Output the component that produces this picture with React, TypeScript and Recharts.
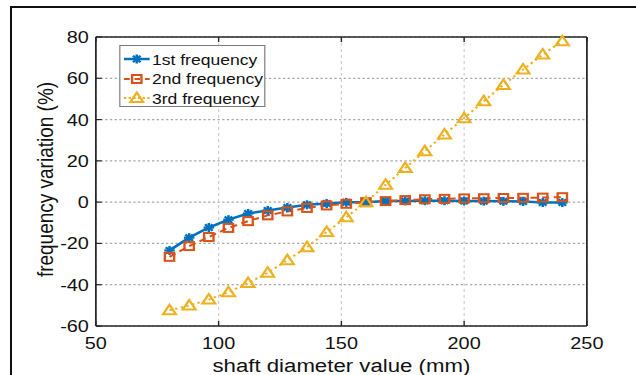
import { LineChart, Line, XAxis, YAxis, CartesianGrid, Legend, Label } from 'recharts'

// values
const diameters = [80, 88, 96, 104, 112, 120, 128, 136, 144, 152, 160, 168, 176, 184, 192, 200, 208, 216, 224, 232, 240]
const firstFreq = [-23.4, -17.2, -12.3, -8.5, -5.5, -4.0, -2.6, -1.3, -0.7, -0.1, 0, 0.5, 0.6, 0.7, 0.7, 0.6, 0.5, 0.4, 0.3, -0.2, -0.2]
const secondFreq = [-26.5, -21.3, -16.9, -12.5, -9.2, -6.4, -4.5, -2.8, -1.6, -0.8, 0, 0.5, 1.0, 1.4, 1.6, 1.8, 1.9, 2.0, 2.1, 2.2, 2.4]
const thirdFreq = [-52.4, -50.1, -47.2, -43.6, -39.2, -34.2, -28.1, -21.8, -14.5, -7.3, 0, 8.4, 16.5, 24.7, 32.8, 40.7, 48.9, 56.8, 64.2, 71.5, 77.9]

const xTicks = [50, 100, 150, 200, 250]
const yTicks = [-60, -40, -20, 0, 20, 40, 60, 80]
const seriesNames = ['1st frequency', '2nd frequency', '3rd frequency']

const BLUE = '#0072BD'
const RED = '#D95319'
const YELLOW = '#EDB120'
const AXIS = '#262626'
const TEXT = '#111'

const rows = diameters.map((d, i) => ({ d, f1: firstFreq[i], f2: secondFreq[i], f3: thirdFreq[i] }))

// the original figure is stretched sideways, so draw narrower and scale x
const W = 544
const H = 375
const SX = 636 / W

function Star({ cx, cy }: any) {
  const r = 4.5
  const d = r * 0.72
  return (
    <g stroke={BLUE} strokeWidth={2.2}>
      <line x1={cx - r} y1={cy} x2={cx + r} y2={cy} />
      <line x1={cx} y1={cy - r} x2={cx} y2={cy + r} />
      <line x1={cx - d} y1={cy - d} x2={cx + d} y2={cy + d} />
      <line x1={cx - d} y1={cy + d} x2={cx + d} y2={cy - d} />
    </g>
  )
}

function Square({ cx, cy }: any) {
  return <rect x={cx - 4} y={cy - 4} width={8} height={8} fill="none" stroke={RED} strokeWidth={2} />
}

function Tri({ cx, cy }: any) {
  return (
    <polygon
      points={`${cx},${cy - 5.5} ${cx + 5.5},${cy + 4} ${cx - 5.5},${cy + 4}`}
      fill="none"
      stroke={YELLOW}
      strokeWidth={2}
      strokeLinejoin="miter"
    />
  )
}

const legendIcons = [
  (y: number) => (
    <g>
      <line x1={2} x2={24} y1={y} y2={y} stroke={BLUE} strokeWidth={2.5} />
      <Star cx={13} cy={y} />
    </g>
  ),
  (y: number) => (
    <g>
      <line x1={2} x2={24} y1={y} y2={y} stroke={RED} strokeWidth={2} strokeDasharray="5 4" />
      <Square cx={13} cy={y} />
    </g>
  ),
  (y: number) => (
    <g>
      <line x1={2} x2={24} y1={y} y2={y} stroke={YELLOW} strokeWidth={2} strokeDasharray="2 2" />
      <Tri cx={13} cy={y} />
    </g>
  ),
]

function LegendBox() {
  return (
    <div
      style={{
        position: 'relative',
        width: 125,
        height: 62,
        boxSizing: 'border-box',
        border: '1px solid #7a7a7a',
        background: '#fff',
      }}
    >
      {seriesNames.map((name, i) => (
        <div key={name} style={{ position: 'absolute', left: 1, top: 3 + i * 19.5, height: 20, display: 'flex', alignItems: 'center' }}>
          <svg width={26} height={20}>{legendIcons[i](10)}</svg>
          <span style={{ fontSize: 15, color: TEXT, whiteSpace: 'nowrap' }}>{name}</span>
        </div>
      ))}
    </div>
  )
}

const noTick = () => <g />

export default function App() {
  return (
    <div style={{ position: 'absolute', left: 0, top: 0, width: 636, height: 375, overflow: 'hidden', background: '#fff' }}>
      <div
        style={{
          position: 'absolute',
          left: 0,
          top: 0,
          width: W,
          height: H,
          transform: `scaleX(${SX})`,
          transformOrigin: '0 0',
        }}
      >
        <LineChart
          width={W}
          height={H}
          data={rows}
          margin={{ top: 32, right: 32, bottom: 19, left: 22 }}
          style={{ fontFamily: '"Liberation Sans", Arial, sans-serif' }}
        >
          <CartesianGrid vertical={false} stroke="#a8a8a8" strokeDasharray="2 2" strokeWidth={1.2} />
          <CartesianGrid horizontal={false} stroke="#cfcfcf" strokeDasharray="3 3" />
          <XAxis
            dataKey="d"
            type="number"
            domain={[50, 250]}
            ticks={xTicks}
            interval={0}
            tickSize={-5}
            tickMargin={16}
            height={30}
            axisLine={{ stroke: AXIS, strokeWidth: 1.5 }}
            tickLine={{ stroke: AXIS, strokeWidth: 1.2 }}
            tick={{ fontSize: 17, fill: TEXT }}
          >
            <Label
              content={(p: any) => {
                const vb = p.viewBox
                return (
                  <text x={vb.x + vb.width / 2} y={372} textAnchor="middle" fontSize={19} fill={TEXT}>
                    shaft diameter value (mm)
                  </text>
                )
              }}
            />
          </XAxis>
          <XAxis
            xAxisId="top"
            orientation="top"
            dataKey="d"
            type="number"
            domain={[50, 250]}
            ticks={xTicks}
            interval={0}
            height={5}
            tickSize={-5}
            axisLine={{ stroke: AXIS, strokeWidth: 1.5 }}
            tickLine={{ stroke: AXIS, strokeWidth: 1.2 }}
            tick={noTick}
          />
          <YAxis
            type="number"
            domain={[-60, 80]}
            ticks={yTicks}
            interval={0}
            width={60}
            tickSize={-5}
            tickMargin={11}
            axisLine={{ stroke: AXIS, strokeWidth: 1.5 }}
            tickLine={{ stroke: AXIS, strokeWidth: 1.2 }}
            tick={{ fontSize: 17, fill: TEXT }}
          >
            <Label
              content={(p: any) => {
                const vb = p.viewBox
                const cx = vb.x + 23
                const cy = vb.y + vb.height / 2 - 2
                return (
                  <text x={cx} y={cy} transform={`rotate(-90 ${cx} ${cy})`} textAnchor="middle" fontSize={19} fill={TEXT}>
                    frequency variation (%)
                  </text>
                )
              }}
            />
          </YAxis>
          <YAxis
            yAxisId="right"
            orientation="right"
            type="number"
            domain={[-60, 80]}
            ticks={yTicks}
            interval={0}
            width={10}
            tickSize={-5}
            axisLine={{ stroke: AXIS, strokeWidth: 1.5 }}
            tickLine={{ stroke: AXIS, strokeWidth: 1.2 }}
            tick={noTick}
          />
          <Line
            dataKey="f1"
            name={seriesNames[0]}
            stroke={BLUE}
            strokeWidth={2.5}
            isAnimationActive={false}
            dot={(p: any) => <Star key={`a${p.index}`} cx={p.cx} cy={p.cy} />}
            activeDot={false}
          />
          <Line
            dataKey="f2"
            name={seriesNames[1]}
            stroke={RED}
            strokeWidth={2}
            strokeDasharray="6 4"
            isAnimationActive={false}
            dot={(p: any) => <Square key={`b${p.index}`} cx={p.cx} cy={p.cy} />}
            activeDot={false}
          />
          <Line
            dataKey="f3"
            name={seriesNames[2]}
            stroke={YELLOW}
            strokeWidth={2}
            strokeDasharray="2 3"
            isAnimationActive={false}
            dot={(p: any) => <Tri key={`c${p.index}`} cx={p.cx} cy={p.cy} />}
            activeDot={false}
          />
          <Legend
            layout="vertical"
            align="center"
            verticalAlign="middle"
            content={() => <LegendBox />}
            wrapperStyle={{ left: 102, top: 45, width: 125, height: 62 }}
          />
        </LineChart>
      </div>
      <div
        style={{
          position: 'absolute',
          left: 10,
          top: 6,
          width: 800,
          height: 600,
          borderLeft: '2px solid #111',
          borderTop: '2px solid #111',
        }}
      />
    </div>
  )
}
